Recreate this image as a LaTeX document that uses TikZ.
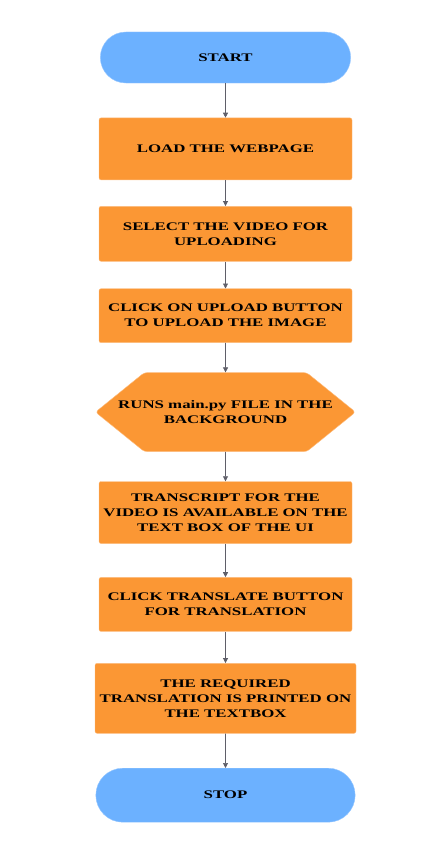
\documentclass[tikz,border=0pt]{standalone}
\usepackage{fontspec}
\newfontfamily\boxfont[FakeStretch=1.45]{Liberation Serif}
\usetikzlibrary{arrows.meta, positioning, shapes.misc, shapes.symbols}
\definecolor{termblue}{RGB}{108,177,255}
\definecolor{boxorange}{RGB}{251,151,52}
\definecolor{lineorange}{RGB}{253,190,130}
\definecolor{arrowgray}{RGB}{95,95,105}

\begin{document}
\begin{tikzpicture}[
    x=1pt, y=-1pt,
    terminal/.style={rounded rectangle, draw=termblue!70!white, fill=termblue, align=center, minimum width=257pt, minimum height=51pt, font=\boxfont\bfseries\fontsize{11.6}{15}\selectfont},
    process/.style={rectangle, rounded corners=2pt, draw=lineorange, fill=boxorange, align=center, minimum width=253pt, inner sep=2pt, font=\boxfont\bfseries\fontsize{11.6}{15}\selectfont},
    prep/.style={signal, signal to=west and east, signal pointer angle=78, rounded corners=3pt, draw=lineorange, fill=boxorange, align=center, minimum height=79pt, inner xsep=-26pt, font=\boxfont\bfseries\fontsize{11.6}{15}\selectfont},
    harrow/.style={-{Triangle[length=5pt, width=5pt]}, arrowgray, line width=0.7pt}
]
\useasboundingbox (0,0) rectangle (432,843);
\node[terminal] (start) at (225.5,57.5) {START};
\node[process, minimum height=62pt, below=34.5pt of start] (load) {LOAD THE WEBPAGE};
\node[process, minimum height=55pt, below=26pt of load] (select) {SELECT THE VIDEO FOR\\UPLOADING};
\node[process, minimum height=54pt, below=27pt of select] (upload) {CLICK ON UPLOAD BUTTON\\TO UPLOAD THE IMAGE};
\node[prep, below=29.5pt of upload] (runs) {RUNS main.py FILE IN THE\\BACKGROUND};
\node[process, minimum height=62pt, below=29.5pt of runs] (transcript) {TRANSCRIPT FOR THE\\VIDEO IS AVAILABLE ON THE\\TEXT BOX OF THE UI};
\node[process, minimum height=54pt, below=33.5pt of transcript] (translate) {CLICK TRANSLATE BUTTON\\FOR TRANSLATION};
\node[process, minimum width=261pt, minimum height=70pt, below=31.5pt of translate] (printed) {THE REQUIRED\\TRANSLATION IS PRINTED ON\\THE TEXTBOX};
\node[terminal, minimum width=266pt, minimum height=54pt, below=34.5pt of printed] (stop) {STOP};

\draw[harrow] (start) -- (load);
\draw[harrow] (load) -- (select);
\draw[harrow] (select) -- (upload);
\draw[harrow] (upload) -- (runs);
\draw[harrow] (runs) -- (transcript);
\draw[harrow] (transcript) -- (translate);
\draw[harrow] (translate) -- (printed);
\draw[harrow] (printed) -- (stop);
\end{tikzpicture}
\end{document}
